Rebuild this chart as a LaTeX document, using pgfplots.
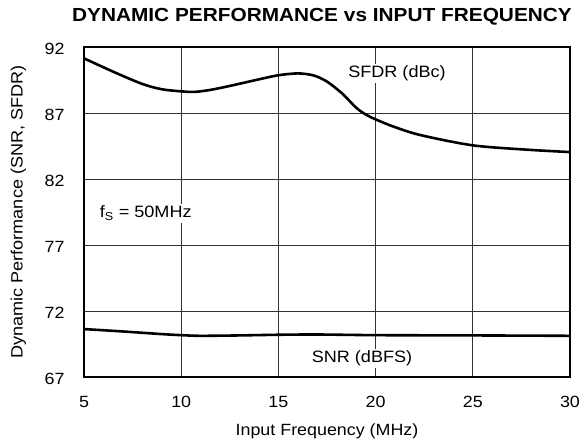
\documentclass[border=0pt]{standalone}
\usepackage{pgfplots}
\pgfplotsset{compat=1.18}
\usepackage{fontspec}
\setmainfont{Liberation Sans}[FakeStretch=1.1]
\begin{document}
\begin{tikzpicture}
\begin{axis}[
 scale only axis, width=486bp, height=330bp,
 xmin=5,xmax=30,ymin=67,ymax=92,
 xtick={5,10,...,30}, ytick={67,72,...,92},
 grid=major, grid style={black!80, line width=0.8pt},
 axis line style={line width=2pt},
 tick style={draw=none},
 ticklabel style={font=\fontsize{16.3}{19}\selectfont},
 /pgf/number format/assume math mode=true,
 xticklabel style={anchor=base, yshift=-30bp},
 yticklabel style={anchor=east, xshift=-16bp, yshift=-1.5bp},
 xlabel={Input Frequency (MHz)}, ylabel={Dynamic Performance (SNR, SFDR)},
 xlabel style={font=\fontsize{16.3}{19}\selectfont, at={(rel axis cs:0.5,0)}, anchor=base, yshift=-58bp},
 ylabel style={font=\fontsize{16.5}{19}\selectfont, at={(rel axis cs:0,0.5)}, anchor=center, yshift=65.5bp},
 title={DYNAMIC PERFORMANCE vs INPUT FREQUENCY},
 title style={font=\bfseries\fontsize{19}{22}\selectfont, at={(rel axis cs:0.5,1)}, anchor=base, yshift=20bp, xshift=-5bp},
]
\addplot[black, line width=2.6pt, smooth, tension=0.5] coordinates {
(5,91.14) (6.5,90.13) (8,89.2) (9,88.8) (10,88.64) (10.7,88.6) (11.5,88.75) (12.5,89.05) (14,89.55) (15,89.86) (16,90.0) (16.8,89.85) (17.5,89.38) (18.3,88.45) (19,87.4) (19.5,86.88) (20,86.52) (20.9,85.98) (22.3,85.33) (25,84.55) (27.8,84.22) (30,84.04)
};
\addplot[black, line width=2.6pt, smooth, tension=0.5] coordinates {
(5,70.63) (7,70.45) (9,70.25) (10,70.17) (11,70.12) (13,70.15) (15,70.2) (17,70.22) (20,70.17) (25,70.15) (30,70.12)
};
\node[fill=white, inner sep=2pt, font=\fontsize{16.5}{19}\selectfont] at (axis cs:21.1,90.0) {SFDR (dBc)};
\node[fill=white, inner sep=2pt, font=\fontsize{16.5}{19}\selectfont] at (axis cs:19.3,68.4) {SNR (dBFS)};
\node[fill=white, inner sep=2pt, anchor=west, font=\fontsize{16.5}{19}\selectfont] at (axis cs:5.7,79.4) {f\textsubscript{S} = 50MHz};
\coordinate (bl) at (rel axis cs:0,0);
\coordinate (tr) at (rel axis cs:1,1);
\end{axis}
\pgfresetboundingbox
\path[use as bounding box] ([shift={(-84bp,-63bp)}]bl) rectangle ([shift={(14bp,47bp)}]tr);
\end{tikzpicture}
\end{document}
